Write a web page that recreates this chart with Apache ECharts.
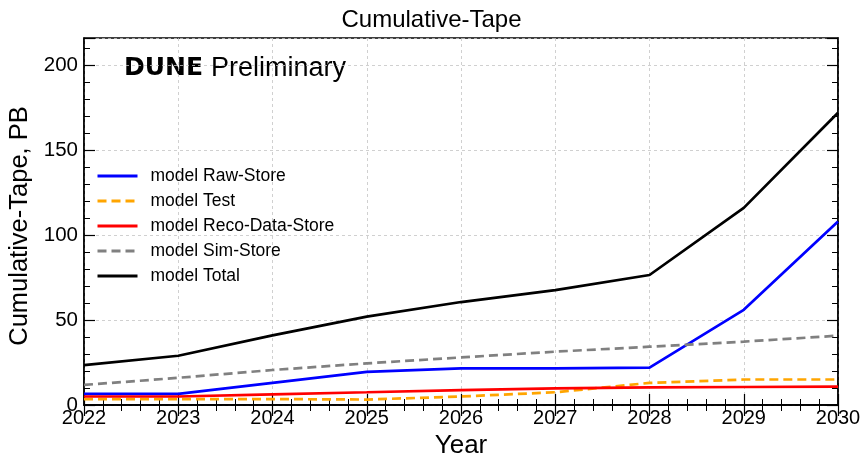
<!DOCTYPE html>
<html><head><meta charset="utf-8">
<script src="https://cdn.jsdelivr.net/npm/echarts@6/dist/echarts.min.js"></script>
<style>html,body{margin:0;padding:0;background:#fff}#c{width:863px;height:458px}</style>
</head><body><div id="c"></div>
<script>
const years = [2022, 2023, 2024, 2025, 2026, 2027, 2028, 2029, 2030];
const rawStore = [6.5, 6.5, 13, 19.5, 21.5, 21.5, 22, 56, 108];
const test = [3.5, 3.5, 3.5, 3.2, 5, 7.5, 13, 15, 15];
const recoStore = [5, 5, 6.3, 7.5, 8.8, 9.8, 10.4, 10.6, 10.8];
const simStore = [11.8, 16, 20.6, 24.5, 28, 31.4, 34.3, 37.3, 40.8];
const total = [23.5, 29, 41, 52, 60.6, 67.6, 76.5, 116, 172];
const seriesNames = ['model Raw-Store', 'model Test', 'model Reco-Data-Store', 'model Sim-Store', 'model Total'];
const yTicks = [0, 50, 100, 150, 200];

const FONT = 'Liberation Sans';
const pair = arr => years.map((y, i) => [y, arr[i]]);
const mk = (name, data, color, type) => ({
  name, type: 'line', data: pair(data), symbol: 'none', xAxisIndex: 0, yAxisIndex: 0,
  lineStyle: { color, width: 2.7, type: type || 'solid' }, itemStyle: { color }
});

const chart = echarts.init(document.getElementById('c'));
const tickCommon = { inside: true, length: 11, lineStyle: { color: '#000', width: 1.2 } };
const minorCommon = { show: true, length: 6, lineStyle: { color: '#000', width: 1 } };
const gridLine = { show: true, lineStyle: { color: '#c4c4c4', type: [3, 3], width: 0.8 } };
chart.setOption({
  animation: false,
  title: { text: 'Cumulative-Tape', left: 'center', top: 3, textStyle: { fontFamily: FONT, fontSize: 24, fontWeight: 'normal', color: '#000' } },
  grid: { left: 84, right: 25, top: 38, bottom: 53, show: true, borderColor: '#000', borderWidth: 1.5,
    outerBoundsMode: 'none', containLabel: false },
  legend: {
    left: 91, top: 162, orient: 'vertical', itemWidth: 40, itemHeight: 14, itemGap: 7,
    itemStyle: { opacity: 0 },
    lineStyle: { width: 3 },
    textStyle: { fontFamily: FONT, fontSize: 17.5, lineHeight: 18, color: '#000', padding: [0, 0, 0, 8] },
    data: seriesNames
  },
  graphic: [{
    type: 'text', left: 124, top: 55,
    style: {
      text: '{b|DUNE}{n|Preliminary}',
      rich: {
        b: { fontFamily: 'DejaVu Sans', fontWeight: 'bold', fontSize: 25, fill: '#000' },
        n: { fontFamily: FONT, fontSize: 27, fill: '#000', padding: [0, 0, 0, 8] }
      }
    }
  }],
  xAxis: [{
    type: 'value', min: 2022, max: 2030, interval: 1,
    name: 'Year', nameLocation: 'middle', nameGap: 25,
    nameTextStyle: { fontFamily: FONT, fontSize: 26, color: '#000' },
    axisLine: { show: true, lineStyle: { color: '#000', width: 1.5 } },
    axisTick: tickCommon, minorTick: Object.assign({ splitNumber: 5 }, minorCommon),
    axisLabel: { fontFamily: FONT, fontSize: 20, color: '#000', margin: 3, formatter: v => String(v) },
    splitLine: gridLine
  }, {
    type: 'value', min: 2022, max: 2030, interval: 1, position: 'top',
    axisLine: { show: true, lineStyle: { color: '#000', width: 1.5 } },
    axisTick: tickCommon, minorTick: Object.assign({ splitNumber: 5 }, minorCommon),
    axisLabel: { show: false }, splitLine: { show: false }
  }],
  yAxis: [{
    type: 'value', min: 0, max: 216, interval: 50,
    name: 'Cumulative-Tape, PB', nameLocation: 'middle', nameGap: 44,
    nameTextStyle: { fontFamily: FONT, fontSize: 25.5, color: '#000', padding: [0, 9, 0, 0] },
    axisLine: { show: true, lineStyle: { color: '#000', width: 1.5 } },
    axisTick: tickCommon, minorTick: Object.assign({ splitNumber: 5 }, minorCommon),
    axisLabel: { fontFamily: FONT, fontSize: 20.5, color: '#000', margin: 6, showMaxLabel: false,
      formatter: v => yTicks.includes(v) ? String(v) : '' },
    splitLine: gridLine
  }, {
    type: 'value', min: 0, max: 216, interval: 50, position: 'right',
    axisLine: { show: true, lineStyle: { color: '#000', width: 1.5 } },
    axisTick: tickCommon, minorTick: Object.assign({ splitNumber: 5 }, minorCommon),
    axisLabel: { show: false }, splitLine: { show: false }
  }],
  series: [
    mk(seriesNames[0], rawStore, '#0000ff'),
    mk(seriesNames[1], test, '#ffa500', [9, 5]),
    mk(seriesNames[2], recoStore, '#ff0000'),
    mk(seriesNames[3], simStore, '#808080', [9, 5]),
    mk(seriesNames[4], total, '#000000')
  ]
});
</script></body></html>
